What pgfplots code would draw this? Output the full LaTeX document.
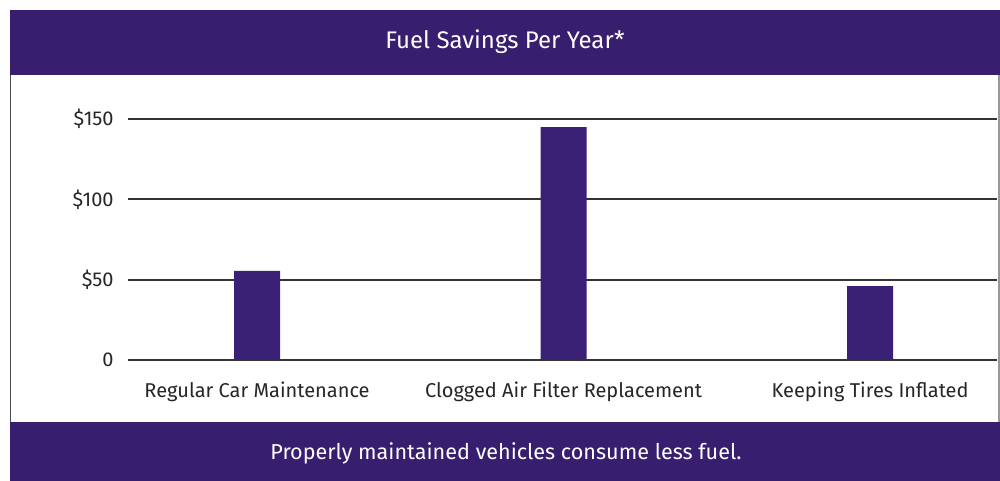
\documentclass[border=0pt]{standalone}
\usepackage{pgfplots}
\pgfplotsset{compat=1.18}
\usepackage{fontspec}
\setmainfont{Fira Sans}
\definecolor{bannerpurple}{RGB}{56,30,110}
\definecolor{barpurple}{RGB}{58,33,118}
\begin{document}
\begin{tikzpicture}
% background and frame (1px = 0.5pt)
\useasboundingbox (0pt,0pt) rectangle (500pt,240.5pt);
\fill[white] (0pt,0pt) rectangle (500pt,240.5pt);
\fill[bannerpurple] (5pt,203pt) rectangle (500pt,235.5pt);
\fill[bannerpurple] (5pt,0pt) rectangle (500pt,29.5pt);
\draw[black!70, line width=0.6pt] (5.3pt,29.5pt) -- (5.3pt,203pt);
\draw[black!40, line width=0.6pt] (499.5pt,29.5pt) -- (499.5pt,203pt);
\node[text=white, font=\fontsize{12}{14}\selectfont] at (252.5pt,219.5pt) {Fuel Savings Per Year*};
\node[text=white, font=\fontsize{10.8}{13}\selectfont] at (253pt,14pt) {Properly maintained vehicles consume less fuel.};
\begin{axis}[
  at={(64pt,60.5pt)}, anchor=south west,
  scale only axis, width=434.5pt, height=120.5pt,
  xmin=-0.421, xmax=2.414, ymin=0, ymax=150,
  axis line style={draw=none},
  major tick length=0pt,
  ymajorgrids, grid style={black!80, line width=1pt},
  ytick={0,50,100,150}, yticklabels={0,\$50,\$100,\$150},
  xtick={0,1,2},
  xticklabels={Regular Car Maintenance, Clogged Air Filter Replacement, Keeping Tires Inflated},
  /pgf/number format/assume math mode=true,
  ticklabel style={font=\fontsize{10}{12}\selectfont, text=black!85},
  yticklabel style={anchor=east, inner sep=0pt, xshift=-7pt},
  xticklabel style={anchor=base, inner sep=0pt, yshift=-19pt},
  clip=false,
]
\addplot[ybar, bar width=0.15, fill=barpurple, draw=none] coordinates {(0,55.5) (1,145) (2,46)};
\end{axis}
\end{tikzpicture}
\end{document}
